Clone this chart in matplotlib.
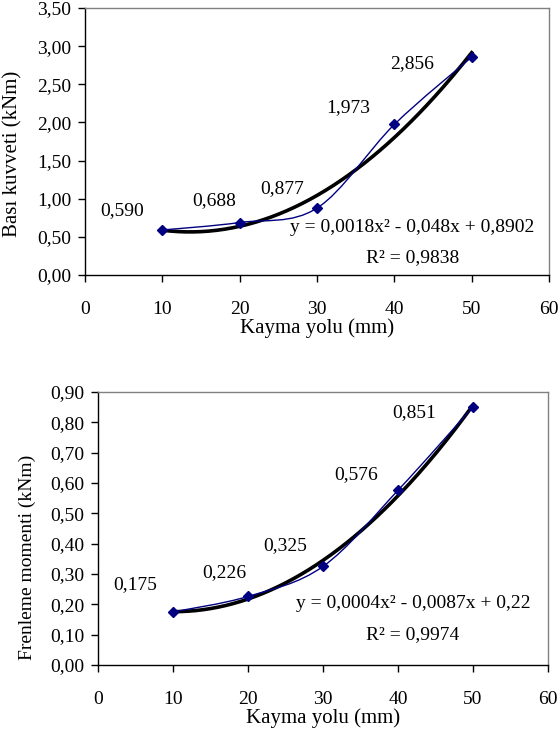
import numpy as np
import matplotlib
matplotlib.use("Agg")
import matplotlib.pyplot as plt
from matplotlib.path import Path
from matplotlib.patches import PathPatch

plt.rcParams['font.family'] = ['Liberation Serif', 'DejaVu Serif']

# ---- data ----
x_mm = [10, 20, 30, 40, 50]
basi_kuvveti = [0.590, 0.688, 0.877, 1.973, 2.856]
frenleme = [0.175, 0.226, 0.325, 0.576, 0.851]
labels_top = ["0,590", "0,688", "0,877", "1,973", "2,856"]
labels_bot = ["0,175", "0,226", "0,325", "0,576", "0,851"]
eq_top = "y = 0,0018x² - 0,048x + 0,8902"
r2_top = "R² = 0,9838"
eq_bot = "y = 0,0004x² - 0,0087x + 0,22"
r2_bot = "R² = 0,9974"
xticks = [0, 10, 20, 30, 40, 50, 60]
yticks_top = [0.0, 0.5, 1.0, 1.5, 2.0, 2.5, 3.0, 3.5]
yticks_bot = [0.0, 0.1, 0.2, 0.3, 0.4, 0.5, 0.6, 0.7, 0.8, 0.9]

# label offsets in points (style)
off_top = [(-29, 14), (-18, 16), (-25, 14), (-33, 12), (-43, -5)]
off_bot = [(-27, 20), (-17, 17), (-27, 15), (-30, 11), (-42, -4)]

NAVY = "#000080"
FS = 14


def smooth_path(xs, ys):
    pts = np.column_stack([xs, ys]).astype(float)
    n = len(pts)
    verts = [pts[0]]
    codes = [Path.MOVETO]
    for i in range(n - 1):
        p0 = pts[i - 1] if i > 0 else pts[i]
        p1 = pts[i]
        p2 = pts[i + 1]
        p3 = pts[i + 2] if i + 2 < n else pts[i + 1]
        c1 = p1 + (p2 - p0) / 6.0
        c2 = p2 - (p3 - p1) / 6.0
        verts += [c1, c2, p2]
        codes += [Path.CURVE4] * 3
    return Path(verts, codes)


def fmt(v, nd):
    return f"{v:.{nd}f}".replace(".", ",")


def draw(ax, ys, labels, offs, yticks, ymax, ylabel, ylfs, eq, r2, eq_pos, r2_pos, ylab_coords):
    # trendline (polynomial fit of degree 2)
    coef = np.polyfit(x_mm, ys, 2)
    xf = np.linspace(min(x_mm), max(x_mm), 200)
    ax.plot(xf, np.polyval(coef, xf), color="black", lw=2.6, zorder=2)
    # smoothed series line
    ax.add_patch(PathPatch(smooth_path(x_mm, ys), fc="none", ec=NAVY, lw=1.0, zorder=3))
    ax.plot(x_mm, ys, ls="none", marker="D", ms=5.5, color=NAVY, zorder=4)
    for xv, yv, lab, off in zip(x_mm, ys, labels, offs):
        ax.annotate(lab, (xv, yv), xytext=off, textcoords="offset points",
                    ha="center", va="center", fontsize=FS)
    ax.set_xlim(0, 60)
    ax.set_ylim(0, ymax)
    ax.set_xticks(xticks)
    ax.set_xticklabels([str(t) for t in xticks], fontsize=FS)
    ax.set_yticks(yticks)
    ax.set_yticklabels([fmt(t, 2) for t in yticks], fontsize=FS)
    ax.tick_params(axis="x", direction="out", length=5, width=1, pad=14)
    ax.tick_params(axis="y", direction="out", length=5, width=1, pad=5)
    for s in ["top", "right"]:
        ax.spines[s].set_color("#808080")
        ax.spines[s].set_linewidth(1.0)
    for s in ["left", "bottom"]:
        ax.spines[s].set_color("black")
        ax.spines[s].set_linewidth(1.0)
    ax.set_xlabel("Kayma yolu (mm)", fontsize=15, labelpad=0)
    ax.set_ylabel(ylabel, fontsize=ylfs)
    ax.yaxis.set_label_coords(*ylab_coords)
    ax.text(eq_pos[0], eq_pos[1], eq, transform=ax.transAxes, ha="center", va="center", fontsize=FS)
    ax.text(r2_pos[0], r2_pos[1], r2, transform=ax.transAxes, ha="center", va="center", fontsize=FS)


fig = plt.figure(figsize=(5.6, 7.35), dpi=100)
W, H = 560.0, 735.0
ax1 = fig.add_axes([85 / W, 1 - 275 / H, (549 - 85) / W, 267 / H])
ax2 = fig.add_axes([98 / W, 1 - 665 / H, (548 - 98) / W, 273 / H])

draw(ax1, basi_kuvveti, labels_top, off_top, yticks_top, 3.5, "Bası kuvveti (kNm)", 15,
     eq_top, r2_top, ((412 - 85) / 464, (275 - 228) / 267), ((413 - 85) / 464, (275 - 258) / 267),
     (-0.134, 0.453))
draw(ax2, frenleme, labels_bot, off_bot, yticks_bot, 0.9, "Frenleme momenti (kNm)", 14,
     eq_bot, r2_bot, ((413 - 98) / 450, (665 - 603) / 273), ((413 - 98) / 450, (665 - 635) / 273),
     (-0.138, 0.396))

fig.savefig("out.png", dpi=100, facecolor="white")
